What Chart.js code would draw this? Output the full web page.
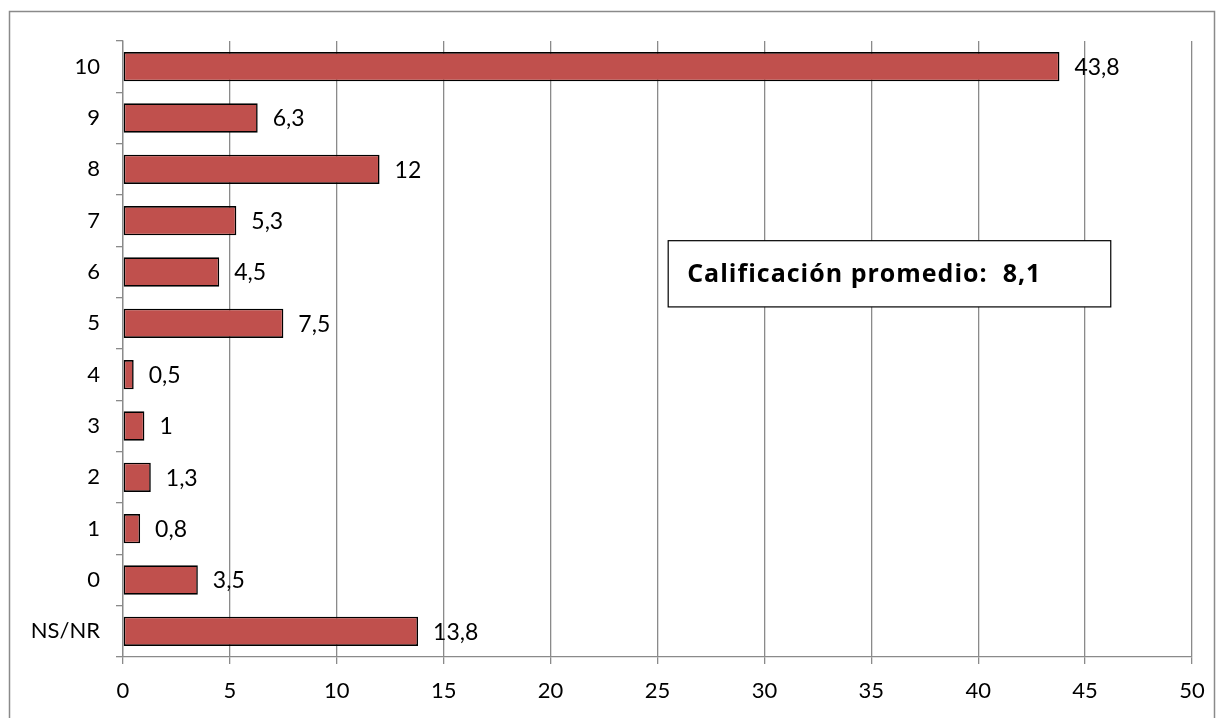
<!DOCTYPE html>
<html>
<head>
<meta charset="utf-8">
<script src="https://cdn.jsdelivr.net/npm/chart.js@4.4.0/dist/chart.umd.min.js"></script>
<style>
  html, body { margin: 0; padding: 0; background: #fff; }
  #wrap { width: 1223px; height: 718px; position: relative; }
</style>
</head>
<body>
<div id="wrap"><canvas id="grafico"></canvas></div>
<script>
// categorias y valores (porcentajes)
const categorias = ['10', '9', '8', '7', '6', '5', '4', '3', '2', '1', '0', 'NS/NR'];
const valores = [43.8, 6.3, 12, 5.3, 4.5, 7.5, 0.5, 1, 1.3, 0.8, 3.5, 13.8];
const ticksX = [0, 5, 10, 15, 20, 25, 30, 35, 40, 45, 50];
const notaPromedio = 'Calificación promedio:  8,1';

const FUENTE = 'Lato, "Open Sans", sans-serif';
const GRIS = '#8a8a8a';

function formatearNumero(v) {
    return String(v).replace('.', ',');
}

// marco exterior del grafico
const marcoPlugin = {
    id: 'marco',
    afterDraw(chart) {
        const ctx = chart.ctx;
        ctx.save();
        ctx.strokeStyle = GRIS;
        ctx.lineWidth = 1.5;
        ctx.strokeRect(9.5, 11.5, 1205, 720);
        ctx.restore();
    }
};

// etiquetas de valor al final de cada barra
const etiquetasPlugin = {
    id: 'etiquetas',
    afterDatasetsDraw(chart) {
        const ctx = chart.ctx;
        const meta = chart.getDatasetMeta(0);
        ctx.save();
        ctx.font = '23px ' + FUENTE;
        ctx.fillStyle = '#000';
        ctx.textAlign = 'left';
        ctx.textBaseline = 'middle';
        meta.data.forEach((bar, i) => {
            ctx.fillText(formatearNumero(valores[i]), bar.x + 15, bar.y + 1);
        });
        ctx.restore();
    }
};

// cuadro con la calificacion promedio
const notaPlugin = {
    id: 'nota',
    afterDraw(chart) {
        const ctx = chart.ctx;
        const x = chart.scales.x;
        const y = chart.scales.y;
        const left = x.getPixelForValue(25.5);
        const right = x.getPixelForValue(46.2);
        const top = y.getPixelForValue(3.39);
        const bottom = y.getPixelForValue(4.68);
        ctx.save();
        ctx.fillStyle = '#fff';
        ctx.fillRect(left, top, right - left, bottom - top);
        ctx.strokeStyle = '#000';
        ctx.lineWidth = 1.2;
        ctx.strokeRect(left, top, right - left, bottom - top);
        ctx.font = 'bold 25px "Open Sans", sans-serif';
        ctx.letterSpacing = '1px';
        ctx.fillStyle = '#000';
        ctx.textBaseline = 'middle';
        ctx.fillText(notaPromedio, left + 19, (top + bottom) / 2 + 1);
        ctx.restore();
    }
};

Chart.defaults.font.family = FUENTE;
Chart.defaults.color = '#000';

new Chart(document.getElementById('grafico').getContext('2d'), {
    type: 'bar',
    data: {
        labels: categorias,
        datasets: [{
            data: valores,
            backgroundColor: '#c0504d',
            borderColor: '#000',
            borderWidth: 1.6,
            borderSkipped: false,
            barPercentage: 0.57,
            categoryPercentage: 1
        }]
    },
    options: {
        indexAxis: 'y',
        responsive: true,
        maintainAspectRatio: false,
        animation: false,
        layout: { padding: { top: 41, right: 31, left: 0, bottom: 0 } },
        plugins: {
            legend: { display: false },
            tooltip: { enabled: false }
        },
        scales: {
            x: {
                min: 0,
                max: 50,
                afterBuildTicks(scale) {
                    scale.ticks = ticksX.map(v => ({ value: v }));
                },
                afterFit(scale) { scale.height = 61; },
                ticks: { font: { size: 22 }, padding: 14, color: '#000' },
                grid: { color: GRIS, lineWidth: 1.3, tickLength: 7 },
                border: { color: GRIS, width: 1.3 }
            },
            y: {
                afterFit(scale) { scale.width = 123; },
                ticks: { font: { size: 22 }, padding: 16, color: '#000' },
                grid: { drawOnChartArea: false, color: GRIS, lineWidth: 1.3, tickLength: 7 },
                border: { color: GRIS, width: 1.3 }
            }
        }
    },
    plugins: [marcoPlugin, etiquetasPlugin, notaPlugin]
});
</script>
</body>
</html>
